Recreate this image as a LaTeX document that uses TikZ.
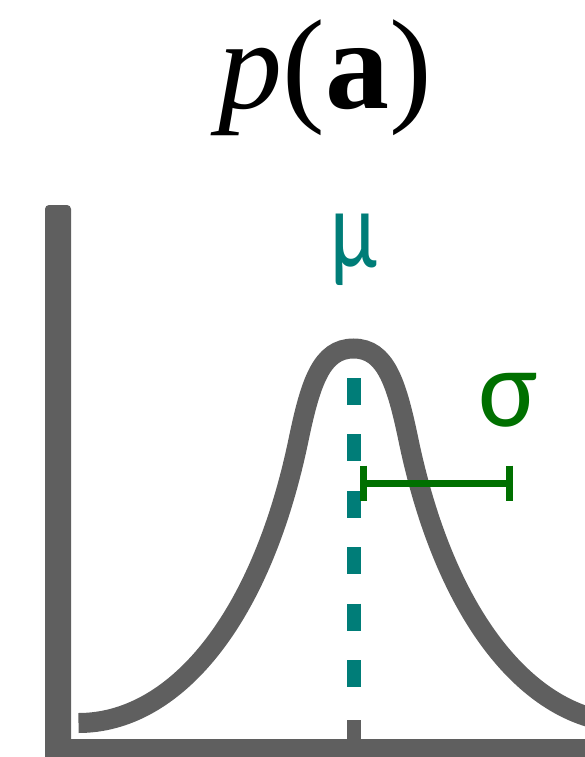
\documentclass[tikz,border=0pt]{standalone}
\usepackage{fontspec}
\setmainfont{Liberation Serif}
\newfontfamily\labelfont{Carlito}
\usetikzlibrary{arrows.meta}

\definecolor{axisgray}{RGB}{95,95,95}
\definecolor{meanteal}{RGB}{0,125,120}
\definecolor{sigmagreen}{RGB}{0,112,0}

\begin{document}
\begin{tikzpicture}[x=1pt, y=-1pt,
  density/.style={axisgray, line width=20pt},
  meanline/.style={meanteal, line width=14pt, dash pattern=on 27pt off 29.4pt},
  sigmabar/.style={sigmagreen, line width=7pt},
  greek/.style={inner sep=0pt, anchor=base, font=\labelfont\fontsize{112}{112}\selectfont}]
  \useasboundingbox (0,0) rectangle (585,757);
  \clip (0,0) rectangle (585,757);
  % title
  \node[anchor=base, inner sep=0pt, font=\fontsize{128}{128}\selectfont] (title) at (325,109) {\textit{p}(\textbf{a})};
  % axes
  \fill[axisgray, rounded corners=4pt] (45,205) rectangle (71,780);
  \fill[axisgray] (45,739) rectangle (600,780);
  % tick at the mean
  \coordinate (ticktop) at (354,720);
  \coordinate (tickbot) at (354,740);
  \draw[axisgray, line width=14pt] (ticktop) -- (tickbot);
  % density curve: two cubic pieces on each side of the peak
  \coordinate (tailL) at (78.5,723);
  \coordinate (bendL) at (298.5,440);
  \coordinate (peak) at (353.5,348.5);
  \coordinate (bendR) at (408.5,440);
  \coordinate (tailR) at (628.5,723);
  \draw[density] (tailL) .. controls (173.5,723) and (260.5,622.4) .. (bendL)
    .. controls (310.5,382.4) and (321.5,348.5) .. (peak)
    .. controls (385.5,348.5) and (396.5,382.4) .. (bendR)
    .. controls (446.5,622.4) and (533.5,723) .. (tailR);
  % mean: dashed line
  \coordinate (mutop) at (354,378);
  \coordinate (mubot) at (354,687);
  \draw[meanline] (mutop) -- (mubot);
  \node[greek, meanteal] (mu) at (354,267) {\scalebox{0.76}[1]{μ}};
  % standard deviation bar
  \coordinate (sigleft) at (363,483);
  \coordinate (sigright) at (509,483);
  \draw[sigmabar] (sigleft) -- (sigright);
  \draw[sigmabar] ([yshift=17.5pt]sigleft) -- ([yshift=-17.5pt]sigleft);
  \draw[sigmabar] ([yshift=17.5pt]sigright) -- ([yshift=-17.5pt]sigright);
  \node[greek, sigmagreen] (sigma) at (508,426) {σ};
\end{tikzpicture}
\end{document}
